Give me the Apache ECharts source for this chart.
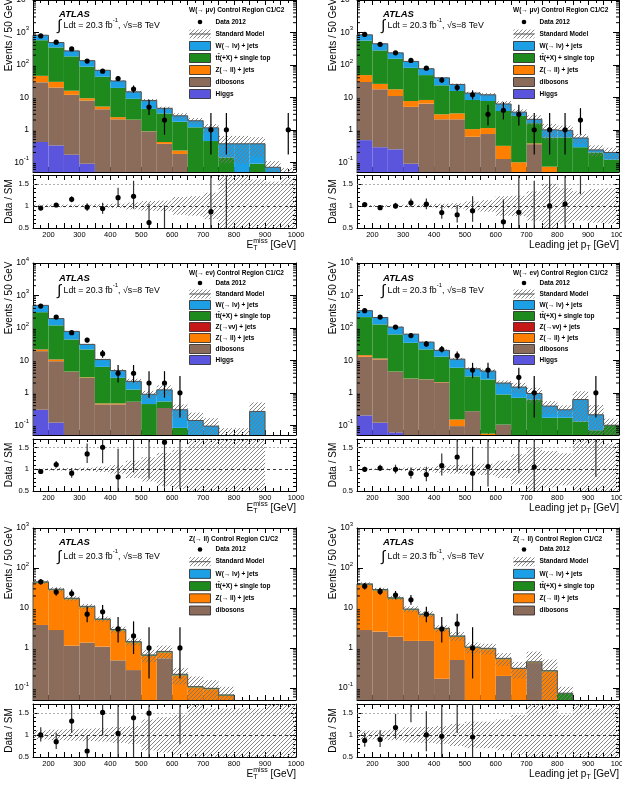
<!DOCTYPE html>
<html>
<head>
<meta charset="utf-8">
<script src="https://cdn.jsdelivr.net/npm/echarts@6/dist/echarts.min.js"></script>
<style>html,body{margin:0;padding:0;background:#fff}#chart{width:622px;height:791px}</style>
</head>
<body>
<div id="chart"></div>
<script>
// 17 bins of 50 GeV, 150 - 1000 GeV
const binEdges = [150,200,250,300,350,400,450,500,550,600,650,700,750,800,850,900,950,1000];

// 68% Poisson intervals for small counts (n = 0..10)
const poissonLo = [0,0.173,0.708,1.367,2.086,2.840,3.620,4.419,5.232,6.057,6.891];
const poissonHi = [1.841,3.300,4.638,5.918,7.163,8.382,9.584,10.77,11.95,13.11,14.27];

// W(mu nu) CR, MET
const muMetData  = [780,500,310,131,64,38,18,5,2,0,0,1,1,0,0,0,1];
const muMetW     = [245,145,87,47,25,12.5,5.8,3.6,1.4,0.93,0.71,0.7,0.23,0.37,0.28,0.07,0.04];
const muMetTop   = [529,315,167,78.6,37.8,17.05,6.95,3.5,2.78,1.54,1.19,0.45,0.14,0,0.09,0,0];
const muMetZll   = [17,10,4,1.4,0.9,0.35,0.05,0.01,0.05,0.05,0,0,0,0,0,0,0];
const muMetDib   = [28.6,19.7,11.8,7.9,4.3,2.1,2.0,0.89,0.37,0.18,0,0,0,0,0,0,0];
const muMetHiggs = [0.42,0.33,0.17,0.09,0,0,0,0,0,0,0,0,0,0,0,0,0];
const muMetSyst  = [0.03,0.03,0.03,0.03,0.04,0.05,0.08,0.11,0.12,0.2,0.22,0.3,0.75,0.75,0.6,0.55,0.65];

// W(mu nu) CR, leading jet pT
const muJetData  = [870,430,235,137,79,34,20,12,3,4,3,1,1,1,2,0,0];
const muJetW     = [285,168,81,47,27.5,16.5,9.3,5.2,4.3,2.45,0.8,0.5,0.42,0.38,0.27,0.04,0.08];
const muJetTop   = [511.5,254,136.3,73.3,40.2,20.5,12.5,7.25,6.57,3.48,2.6,1.22,0.507,0.58,0.29,0.2,0.12];
const muJetZll   = [18.8,8.3,6.7,2.6,1.9,0.9,1.1,0.44,0.39,0.194,0.1,0.02,0.073,0,0,0,0];
const muJetDib   = [29.2,17.4,10.75,5.0,6.4,2.1,2.1,0.61,0.74,0.126,0,0.36,0,0,0,0,0];
const muJetHiggs = [0.48,0.29,0.25,0.09,0,0,0,0,0,0,0,0,0,0,0,0,0];
const muJetSyst  = [0.02,0.02,0.02,0.03,0.03,0.05,0.06,0.1,0.13,0.22,0.23,0.33,0.5,0.4,0.33,0.38,0.4];

// W(e nu) CR, MET
const eMetData  = [470,215,71,42,16,4,4,2,2,1,0,0,0,0,0,0,0];
const eMetW     = [190,74,34,9.3,4.3,1.95,0.99,0.45,0.69,0.217,0.14,0.094,0.045,0.045,0.266,0,0];
const eMetTop   = [283,109,39.5,18.7,5.83,2.43,0.73,0.45,0.2,0.083,0,0,0,0,0,0,0];
const eMetZnn   = [0.3,0.15,0.05,0,0,0,0,0,0,0,0,0,0,0,0,0,0];
const eMetZll   = [2.2,1.15,0.05,0.1,0.03,0.03,0,0,0,0,0,0,0,0,0,0,0];
const eMetDib   = [18.9,9.28,4.4,2.9,0.44,0.44,0.53,0,0.34,0,0,0,0,0,0,0,0];
const eMetHiggs = [0.3,0.12,0,0,0,0,0,0,0,0,0,0,0,0,0,0,0];
const eMetSyst  = [0.02,0.03,0.03,0.04,0.06,0.1,0.2,0.28,0.38,0.45,0.75,0.75,0.8,0.8,0.9,0,0];

// W(e nu) CR, leading jet pT
const eJetData  = [340,215,106,58,32,22,14,5,5,0,3,1,0,0,0,1,0];
const eJetW     = [125,81,43,29.3,14.7,7.4,5.0,2.3,2.13,1.11,0.8,0.33,0.22,0.13,0.49,0.14,0];
const eJetTop   = [200.5,116.6,58.5,31.95,19.1,10.75,5.75,2.93,2.515,0.785,0.7,0.62,0.17,0.17,0.13,0.07,0.1];
const eJetZnn   = [0.2,0.1,0.05,0,0,0,0,0,0,0,0,0,0,0,0,0,0];
const eJetZll   = [1.4,0.6,0.05,0.05,0.03,0.05,0.056,0,0.055,0,0,0,0,0,0,0,0];
const eJetDib   = [12.7,10.58,4.34,2.7,2.57,2.1,0.094,0.27,0,0.105,0,0,0,0,0,0,0];
const eJetHiggs = [0.2,0.12,0.06,0,0,0,0,0,0,0,0,0,0,0,0,0,0];
const eJetSyst  = [0.02,0.02,0.03,0.04,0.05,0.08,0.1,0.11,0.13,0.2,0.35,0.5,0.42,0.37,0.8,1.0,0.6];

// Z(ll) CR, MET
const zMetData = [45,25,23,7,8,3,2,1,0,1,0,0,0,0,0,0,0];
const zMetW    = [0.6,0.4,0.25,0.15,0.08,0.04,0.02,0.01,0.01,0.005,0,0,0,0.01,0.01,0.01,0.01];
const zMetTop  = [1.8,1.2,0.7,0.45,0.22,0.12,0.06,0.03,0.04,0.01,0.005,0.005,0.003,0,0,0,0];
const zMetZll  = [38.84,25.1,15.41,9.04,3.92,2.25,1.08,0.63,0.22,0.205,0.103,0.093,0.064,0,0,0,0];
const zMetDib  = [3.76,2.8,1.14,1.36,1.08,0.49,0.28,0,0.55,0,0,0,0,0,0,0,0];
const zMetSyst = [0.1,0.12,0.13,0.14,0.15,0.18,0.2,0.35,0.4,0.45,0.8,0.6,0.6,0.6,0.6,0.8,0.8];

// Z(ll) CR, leading jet pT
const zJetData = [35,26,21,16,7,3,4,1,0,0,0,0,0,0,0,0,0];
const zJetW    = [0.6,0.4,0.25,0.15,0.1,0.04,0.03,0.01,0.01,0.005,0,0,0,0,0.01,0.01,0.01];
const zJetTop  = [1.6,1.2,0.7,0.4,0.3,0.12,0.08,0.04,0.04,0.02,0.012,0.012,0.01,0.074,0,0,0];
const zJetZll  = [35.0,24.84,15.13,7.35,5.1,2.77,1.39,1.0,0.93,0.325,0.298,0.018,0.26,0,0,0,0];
const zJetDib  = [2.8,2.56,1.92,1.5,1.5,0.17,0.5,0,0,0.2,0,0.42,0,0,0,0,0];
const zJetSyst = [0.1,0.1,0.12,0.17,0.18,0.2,0.25,0.3,0.3,0.35,0.45,0.8,0.9,0.45,0.7,0.6,0.7];

const FONT = '"Liberation Sans", Arial, Helvetica, sans-serif';
const colors = {w:'#1c9fe4', tt:'#1e8a1e', znn:'#c41818', zll:'#ff8000', dib:'#8b6b5a', higgs:'#5a55dc'};
const procNames = {w:'W(\u2192 l\u03bd) + jets', tt:'tt\u0304(+X) + single top', znn:'Z(\u2192\u03bd\u03bd) + jets',
  zll:'Z(\u2192 ll) + jets', dib:'dibosons', higgs:'Higgs'};
const stackOrder = ['higgs','dib','zll','znn','tt','w'];
const legendOrder = ['w','tt','znn','zll','dib','higgs'];
const YMIN = 0.05, RMIN = 0.5, RMAX = 1.7;

const rows = [
  {top:0,   h:172, rtop:175, rh:53, ymax:1e4, head:10, first:22,   step:12,   atlas:14, lumi:26},
  {top:263, h:172, rtop:439, rh:52, ymax:1e4, head:10, first:20,   step:11,   atlas:15, lumi:28},
  {top:528, h:172, rtop:704, rh:53, ymax:1e3, head:11, first:21.5, step:12.2, atlas:14, lumi:29}
];

const panels = [
  {left:33, width:263, row:0, jet:false, region:'W(\u2192 \u03bc\u03bd) Control Region C1/C2', data:muMetData, syst:muMetSyst,
    procs:{w:muMetW, tt:muMetTop, zll:muMetZll, dib:muMetDib, higgs:muMetHiggs}},
  {left:357, width:262, row:0, jet:true, region:'W(\u2192 \u03bc\u03bd) Control Region C1/C2', data:muJetData, syst:muJetSyst,
    procs:{w:muJetW, tt:muJetTop, zll:muJetZll, dib:muJetDib, higgs:muJetHiggs}},
  {left:33, width:263, row:1, jet:false, region:'W(\u2192 e\u03bd) Control Region C1/C2', data:eMetData, syst:eMetSyst,
    procs:{w:eMetW, tt:eMetTop, znn:eMetZnn, zll:eMetZll, dib:eMetDib, higgs:eMetHiggs}},
  {left:357, width:262, row:1, jet:true, region:'W(\u2192 e\u03bd) Control Region C1/C2', data:eJetData, syst:eJetSyst,
    procs:{w:eJetW, tt:eJetTop, znn:eJetZnn, zll:eJetZll, dib:eJetDib, higgs:eJetHiggs}},
  {left:33, width:263, row:2, jet:false, region:'Z(\u2192 ll) Control Region C1/C2', data:zMetData, syst:zMetSyst,
    procs:{w:zMetW, tt:zMetTop, zll:zMetZll, dib:zMetDib}},
  {left:357, width:262, row:2, jet:true, region:'Z(\u2192 ll) Control Region C1/C2', data:zJetData, syst:zJetSyst,
    procs:{w:zJetW, tt:zJetTop, zll:zJetZll, dib:zJetDib}}
];

function makeHatch() {
  const c = document.createElement('canvas');
  c.width = 4; c.height = 4;
  const g = c.getContext('2d');
  g.strokeStyle = '#777';
  g.lineWidth = 0.9;
  g.beginPath();
  g.moveTo(0, 4); g.lineTo(4, 0);
  g.moveTo(-1, 1); g.lineTo(1, -1);
  g.moveTo(3, 5); g.lineTo(5, 3);
  g.stroke();
  return c;
}
const hatch = {image: makeHatch(), repeat: 'repeat'};

function pLo(n) { return n <= 10 ? poissonLo[n] : n - Math.sqrt(n) + 0.1; }
function pHi(n) { return n <= 10 ? poissonHi[n] : n + Math.sqrt(n) + 1; }

function powLabel(v) {
  const l = Math.log10(v), e = Math.round(l);
  if (Math.abs(l - e) > 1e-6) return '';
  if (e === 0) return '1';
  if (e === 1) return '10';
  return '{b|10}{s|' + e + '}';
}

function xAxis(gi, pos, labels) {
  return {type:'value', gridIndex:gi, position:pos, min:150, max:1000, interval:50,
    axisLine:{show:true, onZero:false, lineStyle:{color:'#000', width:1}},
    axisTick:{show:true, inside:true, length:5, lineStyle:{color:'#000', width:1}},
    minorTick:{show:true, splitNumber:2, length:3, lineStyle:{color:'#000', width:1}},
    splitLine:{show:false}, minorSplitLine:{show:false},
    axisLabel:{show:labels, color:'#000', fontSize:7.5, margin:3, fontFamily:FONT,
      formatter: function (v) { return v % 100 === 0 ? String(v) : ''; }}};
}

function logAxis(gi, pos, labels, ymax) {
  return {type:'log', logBase:10, gridIndex:gi, position:pos, min:YMIN, max:ymax,
    axisLine:{show:true, onZero:false, lineStyle:{color:'#000', width:1}},
    axisTick:{show:true, inside:true, length:6, lineStyle:{color:'#000', width:1}},
    minorTick:{show:false}, splitLine:{show:false},
    axisLabel:{show:labels, color:'#000', fontSize:8.5, margin:4, fontFamily:FONT, formatter:powLabel,
      rich:{b:{fontSize:8.5, lineHeight:14, verticalAlign:'middle', color:'#000', fontFamily:FONT},
            s:{fontSize:6, lineHeight:8, verticalAlign:'top', color:'#000', fontFamily:FONT}}}};
}

function ratioAxis(gi, pos, labels) {
  return {type:'value', gridIndex:gi, position:pos, min:RMIN, max:RMAX, interval:0.5,
    axisLine:{show:true, onZero:false, lineStyle:{color:'#000', width:1}},
    axisTick:{show:true, inside:true, length:6, lineStyle:{color:'#000', width:1}},
    minorTick:{show:true, splitNumber:5, length:3, lineStyle:{color:'#000', width:1}},
    splitLine:{show:false}, minorSplitLine:{show:false},
    axisLabel:{show:labels, color:'#000', fontSize:7.5, margin:4, fontFamily:FONT,
      formatter: function (v) {
        if (Math.abs(v - 0.5) < 1e-6) return '0.5';
        if (Math.abs(v - 1) < 1e-6) return '1';
        if (Math.abs(v - 1.5) < 1e-6) return '1.5';
        return '';
      }}};
}

function rectItem(fill, lo0, hi0) {
  return function (params, api) {
    let lo = api.value(2), hi = api.value(3);
    if (!(hi > lo) || hi <= lo0) return null;
    lo = Math.max(lo, lo0); hi = Math.min(hi, hi0);
    const a = api.coord([api.value(0), hi]), b = api.coord([api.value(1), lo]);
    return {type:'rect', shape:{x:a[0], y:a[1], width:b[0] - a[0], height:b[1] - a[1]}, style:{fill:fill}};
  };
}

function outlineItem(lo0, hi0) {
  return function (params, api) {
    const x0 = api.value(0), x1 = api.value(1), t = api.value(2), tp = api.value(3);
    const cl = function (v) { return Math.min(Math.max(v, lo0), hi0); };
    const st = {stroke:'#505050', lineWidth:1};
    const ch = [];
    if (t > lo0) {
      const a = api.coord([x0, cl(t)]), b = api.coord([x1, cl(t)]);
      ch.push({type:'line', shape:{x1:a[0], y1:a[1], x2:b[0], y2:b[1]}, style:st});
    }
    if ((t > lo0 || tp > lo0) && t !== tp) {
      const a = api.coord([x0, cl(t)]), b = api.coord([x0, cl(tp)]);
      ch.push({type:'line', shape:{x1:a[0], y1:a[1], x2:b[0], y2:b[1]}, style:st});
    }
    return {type:'group', children:ch};
  };
}

function pointItem(lo0, hi0, barColor) {
  return function (params, api) {
    const x = api.value(0), v = api.value(1);
    const l = Math.max(api.value(2), lo0), h = Math.min(api.value(3), hi0);
    const ch = [];
    if (h > l) {
      const a = api.coord([x, h]), b = api.coord([x, l]);
      ch.push({type:'line', shape:{x1:a[0], y1:a[1], x2:b[0], y2:b[1]}, style:{stroke:barColor, lineWidth:1.2}});
    }
    if (v >= lo0 && v <= hi0) {
      const c = api.coord([x, v]);
      ch.push({type:'circle', shape:{cx:c[0], cy:c[1], r:2.6}, style:{fill:'#000'}});
    }
    return {type:'group', children:ch};
  };
}

function tickItem(params, api) {
  const v = api.value(1);
  const a = api.coord([150, v]), b = api.coord([1000, v]);
  const st = {stroke:'#000', lineWidth:1};
  return {type:'group', children:[
    {type:'line', shape:{x1:a[0], y1:a[1], x2:a[0] + 3, y2:a[1]}, style:st},
    {type:'line', shape:{x1:b[0] - 3, y1:b[1], x2:b[0], y2:b[1]}, style:st}]};
}

const mctx = document.createElement('canvas').getContext('2d');
function textW(s, size) { mctx.font = size + 'px ' + FONT; return mctx.measureText(s).width; }
function txt(x, y, s, size, align, extra) {
  const style = Object.assign({text:s, fontSize:size, fontFamily:FONT, fill:'#000', align:align || 'left', verticalAlign:'middle'}, extra || {});
  return {type:'text', x:x, y:y, silent:true, style:style};
}

const option = {animation:false, backgroundColor:'#fff', grid:[], xAxis:[], yAxis:[], series:[], graphic:{elements:[]}};
const els = option.graphic.elements;

panels.forEach(function (P, p) {
  const R = rows[P.row];
  const L = P.left;
  option.grid.push({left:L, top:R.top, width:P.width, height:R.h, outerBoundsMode:'none'});
  option.grid.push({left:L, top:R.rtop, width:P.width, height:R.rh, outerBoundsMode:'none'});
  option.xAxis.push(xAxis(2*p, 'bottom', false), xAxis(2*p, 'top', false), xAxis(2*p+1, 'bottom', true), xAxis(2*p+1, 'top', false));
  option.yAxis.push(logAxis(2*p, 'left', true, R.ymax), logAxis(2*p, 'right', false, R.ymax), ratioAxis(2*p+1, 'left', true), ratioAxis(2*p+1, 'right', false));
  const xm = 4*p, ym = 4*p, xr = 4*p+2, yr = 4*p+2;

  // stacked backgrounds
  const total = binEdges.slice(0, 17).map(function () { return 0; });
  stackOrder.forEach(function (k) {
    const vals = P.procs[k];
    if (!vals) return;
    const items = vals.map(function (v, i) {
      const lo = total[i]; total[i] += v;
      return [binEdges[i], binEdges[i+1], lo, total[i]];
    });
    option.series.push({type:'custom', name:k, xAxisIndex:xm, yAxisIndex:ym, z:2, silent:true,
      encode:{x:[0,1], y:[2,3]}, renderItem:rectItem(colors[k], YMIN, R.ymax), data:items});
  });

  // SM uncertainty band, outline, data points
  const band = [], rband = [], outline = [], pts = [], rpts = [];
  total.forEach(function (t, i) {
    const e = P.syst[i];
    if (t > 0) {
      band.push([binEdges[i], binEdges[i+1], t * (1 - e), t * (1 + e)]);
      rband.push([binEdges[i], binEdges[i+1], 1 - e, 1 + e]);
    }
    outline.push([binEdges[i], binEdges[i+1], t, i > 0 ? total[i-1] : 0]);
    const n = P.data[i], xc = (binEdges[i] + binEdges[i+1]) / 2;
    if (n > 0) {
      pts.push([xc, n, pLo(n), pHi(n)]);
      if (t > 0) rpts.push([xc, n / t, pLo(n) / t, pHi(n) / t]);
    }
  });
  option.series.push({type:'custom', xAxisIndex:xm, yAxisIndex:ym, z:3, silent:true,
    encode:{x:[0,1], y:[2,3]}, renderItem:rectItem(hatch, YMIN, R.ymax), data:band});
  option.series.push({type:'custom', xAxisIndex:xm, yAxisIndex:ym, z:4, silent:true,
    encode:{x:[0,1], y:[2,3]}, renderItem:outlineItem(YMIN, R.ymax), data:outline});
  option.series.push({type:'custom', xAxisIndex:xm, yAxisIndex:ym, z:5, silent:true,
    encode:{x:0, y:1}, renderItem:pointItem(YMIN, R.ymax, '#000'), data:pts});

  // log minor ticks on both sides
  const minors = [];
  for (let k = -2; k <= 3; k++) {
    for (let m = 2; m <= 9; m++) {
      const v = m * Math.pow(10, k);
      if (v > YMIN && v < R.ymax) minors.push([150, v]);
    }
  }
  option.series.push({type:'custom', xAxisIndex:xm, yAxisIndex:ym, z:6, silent:true,
    encode:{x:0, y:1}, renderItem:tickItem, data:minors});

  // ratio panel
  option.series.push({type:'custom', xAxisIndex:xr, yAxisIndex:yr, z:3, silent:true,
    encode:{x:[0,1], y:[2,3]}, renderItem:rectItem(hatch, RMIN, RMAX), data:rband,
    markLine:{silent:true, symbol:'none', label:{show:false}, animation:false,
      data:[{yAxis:1, lineStyle:{color:'#222', type:[3,3], width:0.9}},
            {yAxis:1.5, lineStyle:{color:'#999', type:[2,2], width:0.8}}]}});
  option.series.push({type:'custom', xAxisIndex:xr, yAxisIndex:yr, z:5, silent:true,
    encode:{x:0, y:1}, renderItem:pointItem(RMIN, RMAX, '#333'), data:rpts});

  // ATLAS label
  const T = R.top;
  els.push(txt(L + 26, T + R.atlas, 'ATLAS', 9.5, 'left', {fontWeight:'bold', fontStyle:'italic'}));
  els.push({type:'text', x:L + 24, y:T + R.lumi, silent:true, style:{
    text:'{i|\u222b}{t| Ldt = 20.3 fb}{s|-1}{t|, \u221as=8 TeV}', fontFamily:FONT, fill:'#000', verticalAlign:'middle',
    rich:{i:{fontSize:15, lineHeight:18, verticalAlign:'middle', fontFamily:FONT},
          t:{fontSize:8.8, lineHeight:18, verticalAlign:'middle', fontFamily:FONT},
          s:{fontSize:6, lineHeight:12, verticalAlign:'top', fontFamily:FONT}}}});

  // legend
  const bx = L + 156.5, tx = L + 182.5;
  els.push(txt(L + 156, T + R.head, P.region, 6.5, 'left', {fontWeight:'bold'}));
  const entries = ['data', 'sm'].concat(legendOrder.filter(function (k) { return P.procs[k]; }));
  entries.forEach(function (k, i) {
    const y = T + R.first + i * R.step;
    if (k === 'data') {
      els.push({type:'circle', silent:true, shape:{cx:bx + 10.5, cy:y, r:2.3}, style:{fill:'#000'}});
      els.push(txt(tx, y, 'Data 2012', 6.5, 'left', {fontWeight:'bold'}));
    } else if (k === 'sm') {
      els.push({type:'rect', silent:true, shape:{x:bx, y:y - 4.5, width:21, height:9}, style:{fill:hatch}});
      els.push({type:'line', silent:true, shape:{x1:bx, y1:y, x2:bx + 21, y2:y}, style:{stroke:'#555', lineWidth:1}});
      els.push(txt(tx, y, 'Standard Model', 6.5, 'left', {fontWeight:'bold'}));
    } else {
      els.push({type:'rect', silent:true, shape:{x:bx, y:y - 4.5, width:21, height:9}, style:{fill:colors[k], stroke:'#222', lineWidth:0.8}});
      els.push(txt(tx, y, procNames[k], 6.5, 'left', {fontWeight:'bold'}));
    }
  });

  // axis titles
  els.push({type:'text', x:L - 23.5, y:T - 1.5, rotation:Math.PI / 2, silent:true,
    style:{text:'Events / 50 GeV', fontSize:10, fontFamily:FONT, fill:'#000', align:'right', verticalAlign:'middle'}});
  els.push({type:'text', x:L - 23.5, y:R.rtop + R.rh / 2, rotation:Math.PI / 2, silent:true,
    style:{text:'Data / SM', fontSize:10, fontFamily:FONT, fill:'#000', align:'center', verticalAlign:'middle'}});
  const r = L + P.width, y = R.rtop + R.rh + 17;
  const wG = textW(' [GeV]', 10);
  els.push(txt(r, y, ' [GeV]', 10, 'right'));
  if (P.jet) {
    const wT = textW('T', 7);
    els.push(txt(r - wG - wT, y + 3.5, 'T', 7, 'left'));
    els.push(txt(r - wG - wT, y, 'Leading jet p', 10, 'right'));
  } else {
    const wM = textW('miss', 7);
    els.push(txt(r - wG, y - 4, 'miss', 7, 'right'));
    els.push(txt(r - wG - wM, y + 3.5, 'T', 7, 'left'));
    els.push(txt(r - wG - wM, y, 'E', 10, 'right'));
  }
});

const chart = echarts.init(document.getElementById('chart'), null, {renderer:'canvas'});
chart.setOption(option);
</script>
</body>
</html>
